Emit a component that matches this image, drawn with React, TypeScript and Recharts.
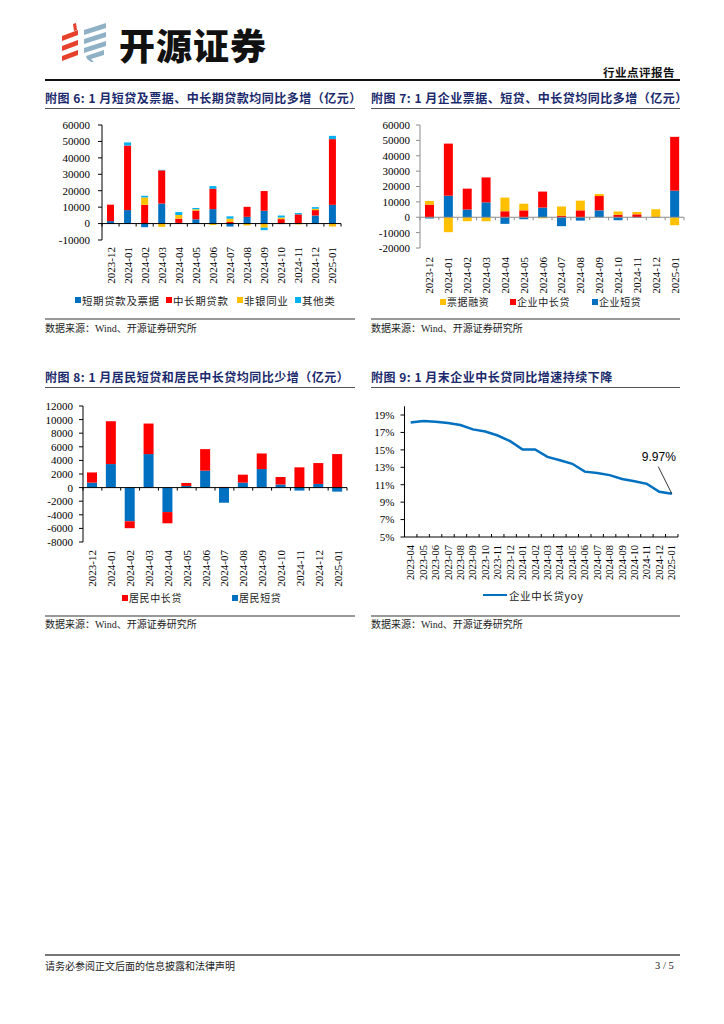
import { BarChart, Bar, XAxis, YAxis, ReferenceLine, LineChart, Line } from "recharts";
import type { ReactNode } from "react";

// 附图6 / 7 / 8 months
const months = [
  "2023-12", "2024-01", "2024-02", "2024-03", "2024-04", "2024-05", "2024-06",
  "2024-07", "2024-08", "2024-09", "2024-10", "2024-11", "2024-12", "2025-01",
];

// 附图6
const shortBill = [1500, 8200, -2200, 12200, 400, 2600, 8800, -1800, 4100, 7800, -300, 300, 4900, 11400];
const midLongLoan = [10000, 39300, 11400, 20200, 2600, 5300, 12400, 1000, 6100, 12000, 2700, 5300, 3300, 40000];
const nonBank = [0, 0, 4500, -2000, 2200, 800, -900, 2000, -1100, -2500, 1000, -500, 800, -1800];
const otherLoans = [0, 1900, 1000, 300, 1800, 800, 1600, 1400, 0, -1500, 1200, 800, 1000, 2000];

// 附图7
const corpShort = [-800, 14000, 5000, 9700, -4300, -1300, 6300, -5800, -2200, 4500, -2000, -300, -400, 17300];
const corpMidLong = [8200, 33900, 13600, 16200, 3900, 4500, 10400, 1000, 4500, 9300, 1700, 1900, 0, 35000];
const billFinance = [2400, -9700, -2600, -2600, 8900, 4300, -700, 6000, 6300, 1300, 2000, 1500, 5200, -5200];

// 附图8
const hhShort = [730, 3460, -4950, 4930, -3600, 240, 2490, -2230, 730, 2730, 440, -440, 540, -590];
const hhMidLong = [1500, 6300, -1020, 4490, -1650, 440, 3170, 100, 1170, 2290, 1120, 2980, 3070, 4930];

// 附图9
const yoyMonths = [
  "2023-04", "2023-05", "2023-06", "2023-07", "2023-08", "2023-09", "2023-10", "2023-11",
  "2023-12", "2024-01", "2024-02", "2024-03", "2024-04", "2024-05", "2024-06", "2024-07",
  "2024-08", "2024-09", "2024-10", "2024-11", "2024-12", "2025-01",
];
const corpMidLongYoy = [
  18.15, 18.3, 18.23, 18.08, 17.85, 17.35, 17.1, 16.65, 16.0, 15.04, 15.04,
  14.2, 13.8, 13.4, 12.5, 12.35, 12.1, 11.65, 11.4, 11.1, 10.2, 9.97,
];

const ticks6 = [-10000, 0, 10000, 20000, 30000, 40000, 50000, 60000];
const ticks7 = [-20000, -10000, 0, 10000, 20000, 30000, 40000, 50000, 60000];
const ticks8 = [-8000, -6000, -4000, -2000, 0, 2000, 4000, 6000, 8000, 10000, 12000];
const ticks9 = [5, 7, 9, 11, 13, 15, 17, 19];

const BLUE = "#0070C0";
const RED = "#FF0000";
const YELLOW = "#FFC000";
const CYAN = "#00B0F0";
const NAVY = "#1a2a6c";
const SERIF = '"Liberation Serif", "Noto Sans CJK SC", serif';
const CJK = '"Noto Sans CJK SC", sans-serif';

const data6 = months.map((m, i) => ({
  month: m, shortBill: shortBill[i], midLong: midLongLoan[i], nonBank: nonBank[i], other: otherLoans[i],
}));
const data7 = months.map((m, i) => ({
  month: m, short: corpShort[i], midLong: corpMidLong[i], bill: billFinance[i],
}));
const data8 = months.map((m, i) => ({ month: m, short: hhShort[i], midLong: hhMidLong[i] }));
const data9 = yoyMonths.map((m, i) => ({ month: m, yoy: corpMidLongYoy[i] }));

// rotated month labels under the plot
const monthTick = (gap: number, size: number) => (props: any) => {
  const { x, y, payload } = props;
  const ty = y + gap;
  return (
    <text
      x={x}
      y={ty}
      transform={`rotate(-90 ${x} ${ty})`}
      textAnchor="end"
      dominantBaseline="central"
      fontSize={size}
      fontFamily={SERIF}
      fill="#000"
    >
      {payload.value}
    </text>
  );
};

// category axis drawn at a value line, with marks between categories
const axisAt = (count: number, color: string, dir: number) => (props: any) => {
  const { x1, x2, y1 } = props;
  const left = Math.min(x1, x2);
  const w = Math.abs(x2 - x1);
  const marks = [];
  for (let i = 0; i <= count; i++) {
    const x = left + (w * i) / count;
    marks.push(<line key={i} x1={x} x2={x} y1={y1} y2={y1 + dir * 3} stroke={color} strokeWidth={1} />);
  }
  return (
    <g>
      <line x1={left} x2={left + w} y1={y1} y2={y1} stroke={color} strokeWidth={1} />
      {marks}
    </g>
  );
};

const lastLabel = (props: any) => {
  const { cx, cy, index } = props;
  if (index !== corpMidLongYoy.length - 1) return <g key={`d${index}`} />;
  return (
    <g key={`d${index}`}>
      <line x1={cx - 13.5} y1={cy - 27} x2={cx} y2={cy} stroke="#000" strokeWidth={0.8} />
      <text x={cx - 13} y={cy - 37} textAnchor="middle" dominantBaseline="central" fontSize={12} fontFamily='"Liberation Sans", Arial, sans-serif' fill="#000">
        {`${corpMidLongYoy[index].toFixed(2)}%`}
      </text>
    </g>
  );
};

const Txt = ({ x, y, size, children, style }: { x: number; y: number; size: number; children: ReactNode; style?: any }) => (
  <div
    style={{
      position: "absolute", left: x, top: y - size, height: size * 2, lineHeight: `${size * 2}px`,
      fontSize: size, whiteSpace: "nowrap", ...style,
    }}
  >
    {children}
  </div>
);

const HLine = ({ x1, x2, y, color, w }: { x1: number; x2: number; y: number; color: string; w: number }) => (
  <div style={{ position: "absolute", left: x1, top: y - w / 2, width: x2 - x1, height: w, background: color }} />
);

const Square = ({ x, y, color }: { x: number; y: number; color: string }) => (
  <div style={{ position: "absolute", left: x, top: y - 3, width: 6, height: 6, background: color }} />
);

const Title = ({ x, y, x2, text }: { x: number; y: number; x2: number; text: string }) => (
  <>
    <Txt x={x} y={y} size={12} style={{ fontFamily: CJK, fontWeight: 700, color: NAVY, letterSpacing: 0.5 }}>
      {text}
    </Txt>
    <HLine x1={x} x2={x2} y={y + 11} color="#555" w={1.5} />
  </>
);

const Source = ({ x, x2, y }: { x: number; x2: number; y: number }) => (
  <>
    <HLine x1={x} x2={x2} y={y - 9.5} color="#999" w={2} />
    <Txt x={x} y={y} size={10} style={{ fontFamily: SERIF, color: "#222" }}>
      数据来源：Wind、开源证券研究所
    </Txt>
  </>
);

const legendText = { fontFamily: CJK, color: "#222", letterSpacing: 0.6 };

const Logo = () => (
  <svg style={{ position: "absolute", left: 60, top: 22 }} width={50} height={42}>
    <path d="M13 2 L16 1 L17 8 L14 9 Z" fill="#E5412D" />
    <polygon points="2,14 18,8 18,13 2,19" fill="#E5412D" />
    <polygon points="2,24 18,18 18,23 2,29" fill="#E5412D" />
    <polygon points="2,34 18,28 18,33 2,39" fill="#E5412D" />
    <polygon points="24,8 46,1 46,6 24,13" fill="#8EB1C5" />
    <polygon points="24,17 46,10 46,15 24,22" fill="#8EB1C5" />
    <polygon points="24,26 46,19 46,24 24,31" fill="#8EB1C5" />
    <polygon points="26,34 44,28 44,33 31,37 34,40 31,40 27,37" fill="#8EB1C5" />
  </svg>
);

export default function App() {
  const yTick = { fontSize: 11, fontFamily: SERIF, fill: "#000" };
  return (
    <div style={{ position: "absolute", left: 0, top: 0, width: 724, height: 1024, background: "#fff", fontFamily: SERIF }}>
      {/* header */}
      <Logo />
      <Txt x={119} y={44} size={36} style={{ fontFamily: CJK, fontWeight: 900, color: "#111", letterSpacing: 1 }}>
        开源证券
      </Txt>
      <Txt x={603} y={72} size={11.5} style={{ fontFamily: CJK, fontWeight: 700, color: "#111", letterSpacing: 0.5 }}>
        行业点评报告
      </Txt>
      <HLine x1={45} x2={680} y={80} color="#111" w={1.2} />

      {/* 附图6 */}
      <Title x={45} y={97.5} x2={355} text="附图 6: 1 月短贷及票据、中长期贷款均同比多增（亿元）" />
      <div style={{ position: "absolute", left: 40, top: 110 }}>
        <BarChart width={310} height={175} data={data6} stackOffset="sign" barSize={7}
          margin={{ top: 15, right: 9, left: 7, bottom: 0 }}>
          <XAxis dataKey="month" height={45} axisLine={false} tickLine={false} tickSize={0} tickMargin={0}
            interval={0} tick={monthTick(7, 11)} />
          <YAxis width={55} domain={[-10000, 60000]} ticks={ticks6} interval={0} tickSize={4} tickMargin={8}
            axisLine={{ stroke: "#000" }} tickLine={{ stroke: "#000" }} tick={yTick} />
          <Bar dataKey="shortBill" stackId="a" fill={BLUE} isAnimationActive={false} />
          <Bar dataKey="midLong" stackId="a" fill={RED} isAnimationActive={false} />
          <Bar dataKey="nonBank" stackId="a" fill={YELLOW} isAnimationActive={false} />
          <Bar dataKey="other" stackId="a" fill={CYAN} isAnimationActive={false} />
          <ReferenceLine y={0} shape={axisAt(months.length, "#000", 1)} />
        </BarChart>
      </div>
      <Square x={75} y={300} color={BLUE} />
      <Txt x={82} y={300} size={10.5} style={legendText}>短期贷款及票据</Txt>
      <Square x={166} y={300} color={RED} />
      <Txt x={173} y={300} size={10.5} style={legendText}>中长期贷款</Txt>
      <Square x={237} y={300} color={YELLOW} />
      <Txt x={244} y={300} size={10.5} style={legendText}>非银同业</Txt>
      <Square x={295} y={300} color={CYAN} />
      <Txt x={302} y={300} size={10.5} style={legendText}>其他类</Txt>
      <Source x={45} x2={355} y={328.5} />

      {/* 附图7 */}
      <Title x={371} y={97.5} x2={680} text="附图 7: 1 月企业票据、短贷、中长贷均同比多增（亿元）" />
      <div style={{ position: "absolute", left: 362, top: 110 }}>
        <BarChart width={330} height={183} data={data7} stackOffset="sign" barSize={9}
          margin={{ top: 15, right: 8, left: 3, bottom: 0 }}>
          <XAxis dataKey="month" height={45} axisLine={false} tickLine={false} tickSize={0} tickMargin={0}
            interval={0} tick={monthTick(9, 11)} />
          <YAxis width={55} domain={[-20000, 60000]} ticks={ticks7} interval={0} tickSize={4} tickMargin={6}
            axisLine={{ stroke: "#8c8c8c" }} tickLine={{ stroke: "#8c8c8c" }} tick={yTick} />
          <Bar dataKey="short" stackId="a" fill={BLUE} isAnimationActive={false} />
          <Bar dataKey="midLong" stackId="a" fill={RED} isAnimationActive={false} />
          <Bar dataKey="bill" stackId="a" fill={YELLOW} isAnimationActive={false} />
          <ReferenceLine y={0} shape={axisAt(months.length, "#8c8c8c", 1)} />
        </BarChart>
      </div>
      <Square x={440} y={302} color={YELLOW} />
      <Txt x={447} y={302} size={10} style={legendText}>票据融资</Txt>
      <Square x={510} y={302} color={RED} />
      <Txt x={517} y={302} size={10} style={legendText}>企业中长贷</Txt>
      <Square x={592} y={302} color={BLUE} />
      <Txt x={599} y={302} size={10} style={legendText}>企业短贷</Txt>
      <Source x={371} x2={680} y={328.5} />

      {/* 附图8 */}
      <Title x={45} y={376.5} x2={355} text="附图 8: 1 月居民短贷和居民中长贷均同比少增（亿元）" />
      <div style={{ position: "absolute", left: 28, top: 390 }}>
        <BarChart width={325} height={197} data={data8} stackOffset="sign" barSize={10}
          margin={{ top: 16, right: 6, left: 0, bottom: 0 }}>
          <XAxis dataKey="month" height={45} axisLine={false} tickLine={false} tickSize={0} tickMargin={0}
            interval={0} tick={monthTick(8, 11)} />
          <YAxis width={55} domain={[-8000, 12000]} ticks={ticks8} interval={0} tickSize={4} tickMargin={6}
            axisLine={{ stroke: "#000" }} tickLine={{ stroke: "#000" }} tick={yTick} />
          <Bar dataKey="short" stackId="a" fill={BLUE} isAnimationActive={false} />
          <Bar dataKey="midLong" stackId="a" fill={RED} isAnimationActive={false} />
          <ReferenceLine y={0} shape={axisAt(months.length, "#000", 1)} />
        </BarChart>
      </div>
      <Square x={122} y={597.5} color={RED} />
      <Txt x={129} y={597.5} size={10} style={legendText}>居民中长贷</Txt>
      <Square x={232} y={597.5} color={BLUE} />
      <Txt x={239} y={597.5} size={10} style={legendText}>居民短贷</Txt>
      <Source x={45} x2={355} y={625} />

      {/* 附图9 */}
      <Title x={371} y={376.5} x2={680} text="附图 9: 1 月末企业中长贷同比增速持续下降" />
      <div style={{ position: "absolute", left: 362, top: 390 }}>
        <LineChart width={330} height={192} data={data9} margin={{ top: 16.3, right: 14, left: 2.5, bottom: 0 }}>
          <XAxis dataKey="month" height={45} padding={{ left: 6.2, right: 6.2 }} axisLine={false} tickLine={false}
            tickSize={0} tickMargin={0} interval={0} tick={monthTick(8, 10.5)} />
          <YAxis width={40} domain={[5, 20]} ticks={ticks9} interval={0} tickSize={4} tickMargin={6}
            axisLine={{ stroke: "#000" }} tickLine={{ stroke: "#000" }} tick={yTick}
            tickFormatter={(v: number) => `${v}%`} />
          <ReferenceLine y={5} shape={axisAt(yoyMonths.length, "#000", -1)} />
          <Line dataKey="yoy" stroke={BLUE} strokeWidth={2.5} dot={lastLabel} activeDot={false}
            isAnimationActive={false} />
        </LineChart>
      </div>
      <HLine x1={483} x2={507} y={595} color={BLUE} w={2.5} />
      <Txt x={509} y={595} size={10.5} style={legendText}>企业中长贷yoy</Txt>
      <Source x={371} x2={680} y={625} />

      {/* footer */}
      <HLine x1={45} x2={680} y={955} color="#777" w={2} />
      <Txt x={45} y={965.5} size={10} style={{ fontFamily: CJK, color: "#222" }}>
        请务必参阅正文后面的信息披露和法律声明
      </Txt>
      <Txt x={655} y={965.5} size={10.5} style={{ fontFamily: SERIF, color: "#222" }}>
        3 / 5
      </Txt>
    </div>
  );
}
